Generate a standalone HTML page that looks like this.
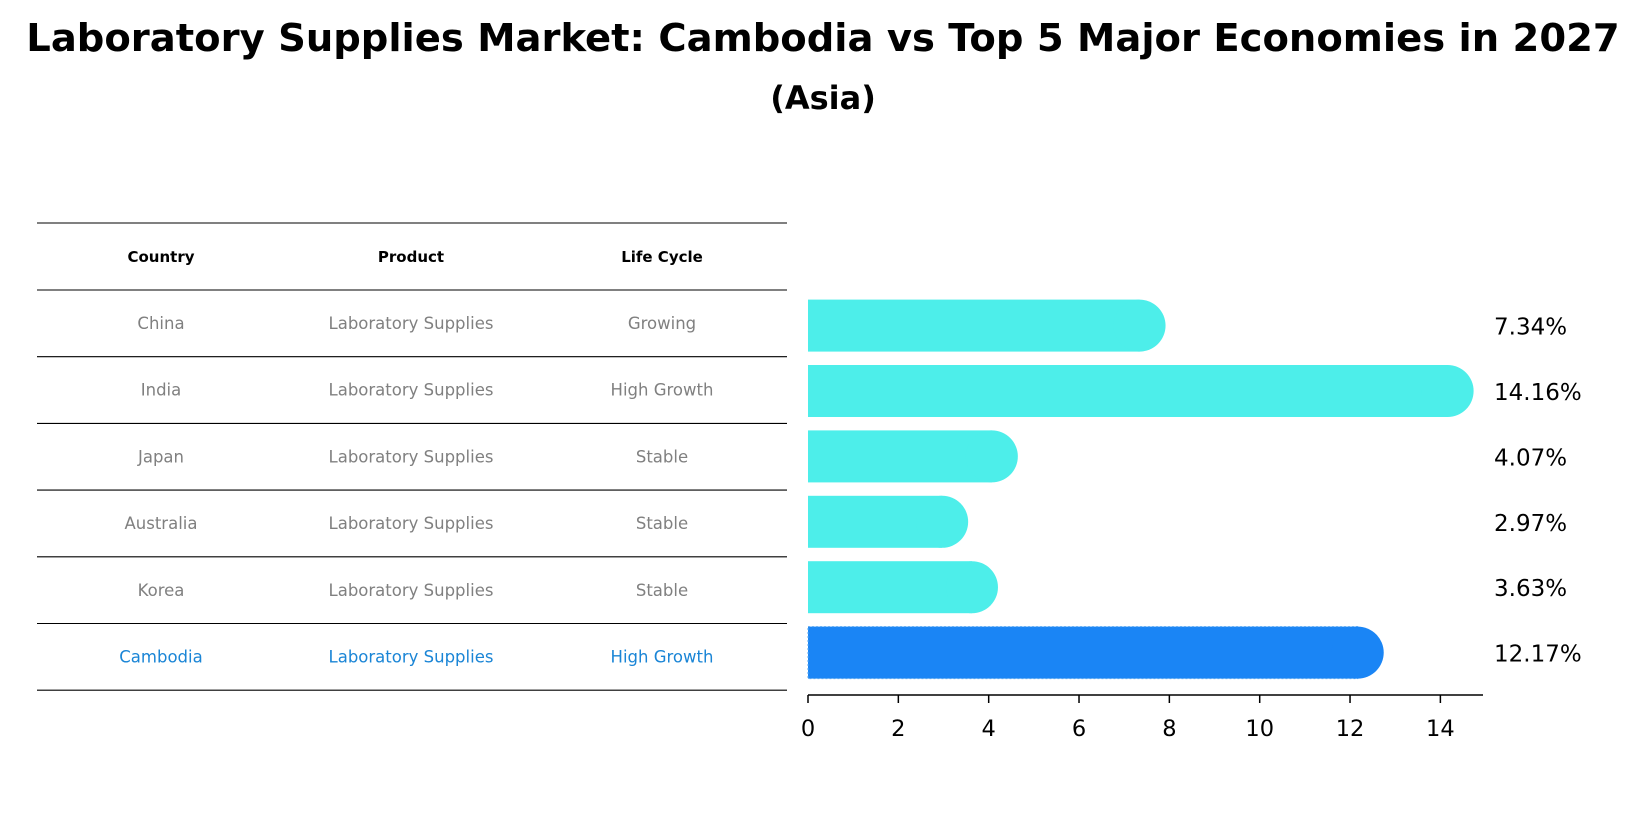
<!DOCTYPE html>
<html><head><meta charset="utf-8"><style>
body{margin:0;background:#fff;font-family:"DejaVu Sans","Liberation Sans",sans-serif;}
</style></head><body>
<svg width="1647" height="823" xmlns="http://www.w3.org/2000/svg" font-family="DejaVu Sans, Liberation Sans, sans-serif">
<text x="823" y="51" text-anchor="middle" font-size="38.5" font-weight="bold">Laboratory Supplies Market: Cambodia vs Top 5 Major Economies in 2027</text>
<text x="823" y="109" text-anchor="middle" font-size="32" font-weight="bold">(Asia)</text>
<g id="table"></g>
<g id="bars"></g>
</svg>
<script>
const countries=["China","India","Japan","Australia","Korea","Cambodia"];
const products=["Laboratory Supplies","Laboratory Supplies","Laboratory Supplies","Laboratory Supplies","Laboratory Supplies","Laboratory Supplies"];
const lifeCycles=["Growing","High Growth","Stable","Stable","Stable","High Growth"];
const values=[7.34,14.16,4.07,2.97,3.63,12.17];
const ticks=[0,2,4,6,8,10,12,14];
const NS="http://www.w3.org/2000/svg";
function mk(tag,attrs,parent,text){const e=document.createElementNS(NS,tag);for(const k in attrs)e.setAttribute(k,attrs[k]);if(text!==undefined)e.textContent=text;parent.appendChild(e);return e;}
const x=v=>808+v*45.17;
const rowY=i=>325.6+i*65.4;
const tb=document.getElementById('table');
const lineYs=[223,290];
for(let i=0;i<countries.length;i++)lineYs.push(290+(i+1)*66.7);
lineYs.forEach(y=>{const l=mk('line',{x1:37,x2:787,y1:y,y2:y,stroke:'#000','stroke-width':1.1},tb);

});
const colX=[161,411,662];
["Country","Product","Life Cycle"].forEach((h,j)=>{const t=mk('text',{x:colX[j],y:262,'text-anchor':'middle','font-size':15,'font-weight':'bold'},tb,h);

});
countries.forEach((c,i)=>{const y=290+i*66.7+39;const col=i===countries.length-1?'#1a85d6':'#808080';
[c,products[i],lifeCycles[i]].forEach((s,j)=>{const t=mk('text',{x:colX[j],y:y,'text-anchor':'middle','font-size':16.5,fill:col},tb,s);

});});
const bg=document.getElementById('bars');
values.forEach((v,i)=>{const cy=rowY(i);const last=i===values.length-1;const col=last?'#1a85f5':'#4deeea';
const r=mk('rect',{x:808,y:cy-26,width:x(v)-808,height:52,fill:col},bg);
if(last){r.setAttribute('stroke','#5aa8f0');r.setAttribute('stroke-dasharray','2,2');}


const c=mk('circle',{cx:x(v),cy:cy,r:26,fill:col},bg);


const t=mk('text',{x:1494,y:cy+9,'font-size':23},bg,v.toFixed(2)+'%');

});
const ax=mk('line',{x1:808,x2:1483,y1:695,y2:695,stroke:'#000','stroke-width':1.5},bg);


ticks.forEach(tv=>{const tl=mk('line',{x1:x(tv),x2:x(tv),y1:695,y2:703,stroke:'#000','stroke-width':1.5},bg);


const t=mk('text',{x:x(tv),y:736,'text-anchor':'middle','font-size':22.5},bg,String(tv));

});
</script>
</body></html>
